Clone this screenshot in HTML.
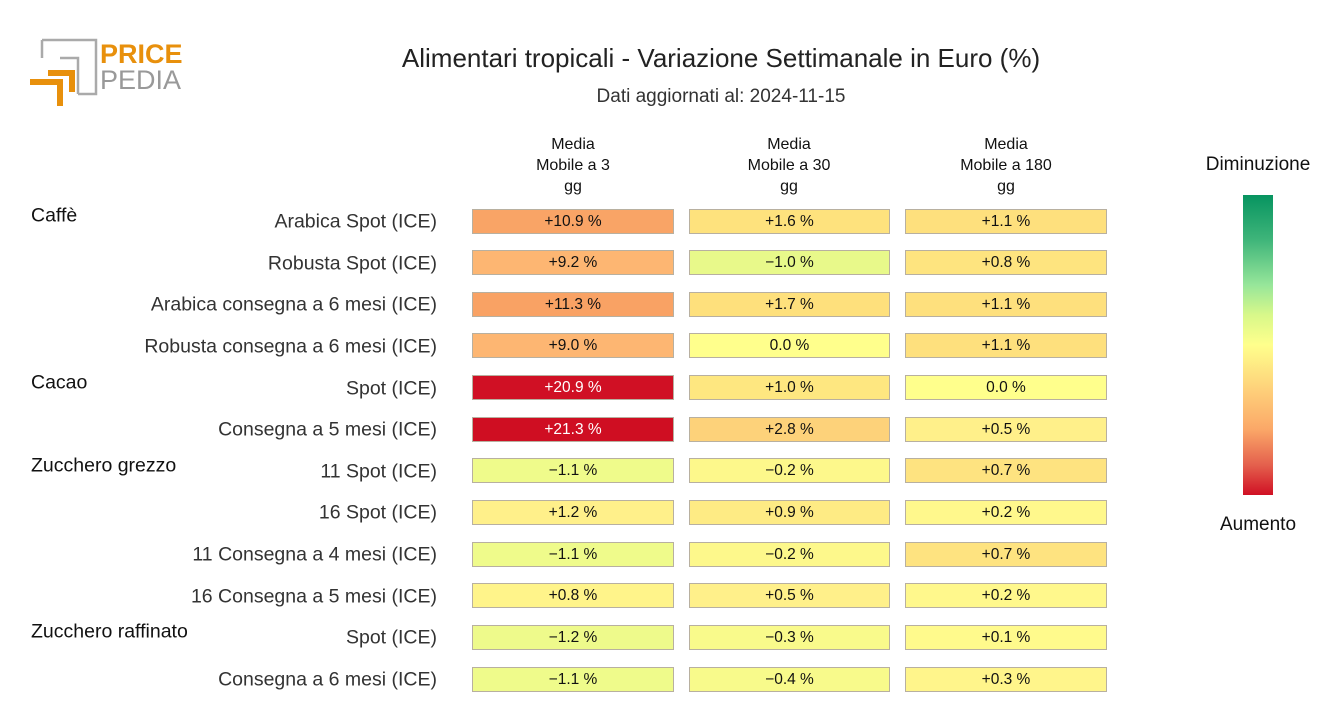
<!DOCTYPE html>
<html><head><meta charset="utf-8"><style>
body{margin:0;width:1320px;height:720px;background:#fff;position:relative;font-family:"Liberation Sans",sans-serif;color:#111;overflow:hidden}
.a{position:absolute;white-space:nowrap}
.lbl{right:883px;font-size:19.5px;color:#333;transform:translateY(-50%)}
.grp{left:31px;font-size:19.5px;color:#111;transform:translateY(-50%)}
.c{position:absolute;height:25px;border:1px solid #b8b0a0;box-sizing:border-box;font-size:15.5px;text-align:center;line-height:23px;color:#111}
.h{position:absolute;width:200px;text-align:center;font-size:16px;line-height:21px;top:134px}
</style></head><body>
<svg class="a" style="left:28px;top:36px" width="160" height="75">
<polyline points="14,4 68,4 68,58 50,58" fill="none" stroke="#aaa" stroke-width="2.5"/>
<polyline points="14,4 14,22" fill="none" stroke="#aaa" stroke-width="2.5"/>
<polyline points="32,22 50,22 50,58" fill="none" stroke="#aaa" stroke-width="2.5"/>
<polyline points="2,46 32,46 32,70" fill="none" stroke="#e8900c" stroke-width="6"/>
<polyline points="20,37 44,37 44,56" fill="none" stroke="#e8900c" stroke-width="6"/>
<text x="72" y="27" font-family="Liberation Sans" font-weight="bold" font-size="27" fill="#e8900c">PRICE</text>
<text x="72" y="53" font-family="Liberation Sans" font-size="27" fill="#999">PEDIA</text>
</svg>
<div class="a" style="left:0;width:1442px;text-align:center;top:43px;font-size:26px;color:#222">Alimentari tropicali - Variazione Settimanale in Euro (%)</div>
<div class="a" style="left:0;width:1442px;text-align:center;top:86px;font-size:19px;color:#333">Dati aggiornati al: 2024-11-15</div>
<div class="h" style="left:473px">Media<br>Mobile a 3<br>gg</div>
<div class="h" style="left:689px">Media<br>Mobile a 30<br>gg</div>
<div class="h" style="left:906px">Media<br>Mobile a 180<br>gg</div>
<div class="a" style="left:1190px;width:136px;text-align:center;top:154px;font-size:19px">Diminuzione</div>
<div class="a" style="left:1190px;width:136px;text-align:center;top:514px;font-size:19px">Aumento</div>
<div class="a" style="left:1243px;top:195px;width:30px;height:300px;background:linear-gradient(#079460 0%,#3fb57a 15%,#97e69a 30%,#d8f88a 40%,#ffff8c 50%,#fed07a 65%,#fba868 78%,#e4604d 90%,#d01024 100%)"></div>
<div id="rows"></div>
<script>
const rows=[
["Caffè","Arabica Spot (ICE)",["+10.9 %","#f9a466"],["+1.6 %","#fee27d"],["+1.1 %","#fee07d"]],
[null,"Robusta Spot (ICE)",["+9.2 %","#fdb672"],["−1.0 %","#e8f98a"],["+0.8 %","#fee47f"]],
[null,"Arabica consegna a 6 mesi (ICE)",["+11.3 %","#f9a264"],["+1.7 %","#fee07c"],["+1.1 %","#fee07d"]],
[null,"Robusta consegna a 6 mesi (ICE)",["+9.0 %","#fdb672"],["0.0 %","#ffff8c"],["+1.1 %","#fee07d"]],
["Cacao","Spot (ICE)",["+20.9 %","#d01024"],["+1.0 %","#fee780"],["0.0 %","#ffff8c"]],
[null,"Consegna a 5 mesi (ICE)",["+21.3 %","#cf0e22"],["+2.8 %","#fdd27a"],["+0.5 %","#fff08a"]],
["Zucchero grezzo","11 Spot (ICE)",["−1.1 %","#effb8b"],["−0.2 %","#fdf88b"],["+0.7 %","#fee380"]],
[null,"16 Spot (ICE)",["+1.2 %","#fff08a"],["+0.9 %","#feeb84"],["+0.2 %","#fff88c"]],
[null,"11 Consegna a 4 mesi (ICE)",["−1.1 %","#effb8b"],["−0.2 %","#fdf88b"],["+0.7 %","#fee380"]],
[null,"16 Consegna a 5 mesi (ICE)",["+0.8 %","#fff48a"],["+0.5 %","#fff08a"],["+0.2 %","#fff88c"]],
["Zucchero raffinato","Spot (ICE)",["−1.2 %","#eefa8b"],["−0.3 %","#f9fa8b"],["+0.1 %","#fffa8c"]],
[null,"Consegna a 6 mesi (ICE)",["−1.1 %","#effb8b"],["−0.4 %","#f8fa8b"],["+0.3 %","#fff58b"]]];
const xs=[[472,202],[689,201],[905,202]];let h="";
rows.forEach((r,i)=>{const y=221+i*41.64;
if(r[0])h+=`<div class="a grp" style="top:${y-5}px">${r[0]}</div>`;
h+=`<div class="a lbl" style="top:${y+1}px">${r[1]}</div>`;
for(let j=0;j<3;j++){const c=r[2+j];const col=c[1]=="#d01024"||c[1]=="#cf0e22"?"#fff":"#111";
h+=`<div class="c" style="left:${xs[j][0]}px;width:${xs[j][1]}px;top:${y-12.5}px;background:${c[1]};color:${col}">${c[0]}</div>`;}
});document.getElementById("rows").innerHTML=h;
</script>
</body></html>
